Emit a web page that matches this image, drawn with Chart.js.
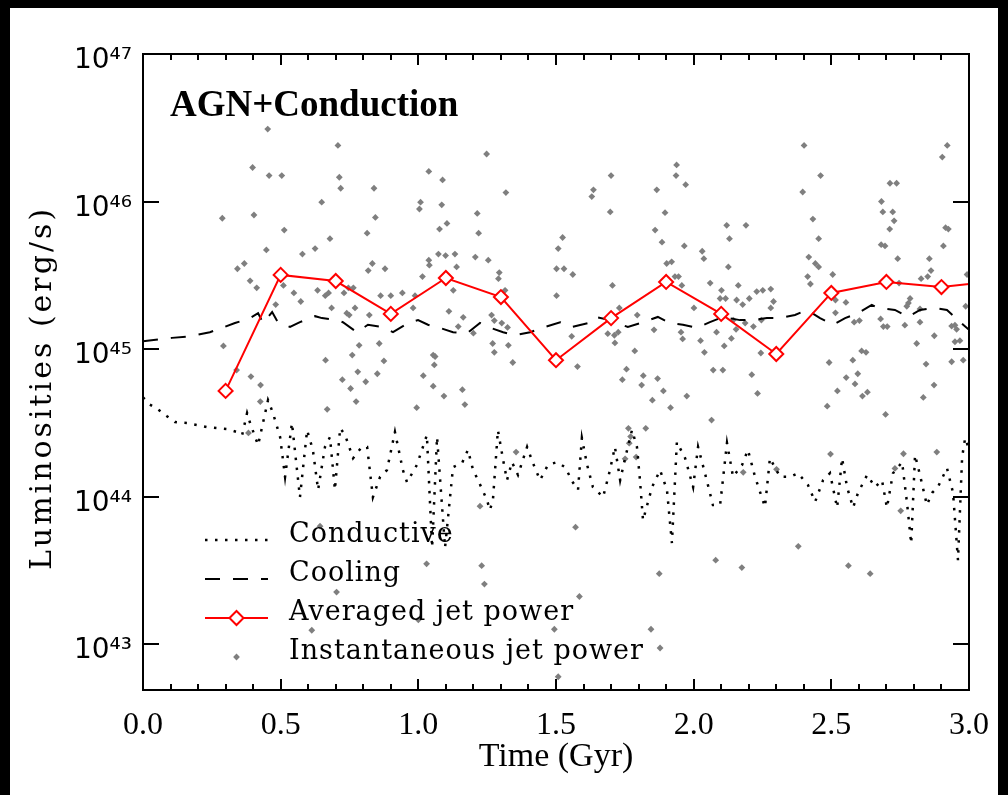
<!DOCTYPE html>
<html>
<head>
<meta charset="utf-8">
<script src="https://cdn.jsdelivr.net/npm/chart.js@4.4.1/dist/chart.umd.min.js"></script>
<style>
  html, body { margin: 0; padding: 0; background: #000; }
  #sheet { position: absolute; left: 10px; top: 8px; width: 988px; height: 787px; background: #fff; }
  #wrap { position: absolute; left: 0; top: 0; width: 1008px; height: 795px; }
</style>
</head>
<body>
<div id="sheet"></div>
<div id="wrap"><canvas id="chart" width="1008" height="795"></canvas></div>
<script>
// axis ticks
const xTicks = [0, 0.5, 1.0, 1.5, 2.0, 2.5, 3.0];
const yTicks = [1e43, 1e44, 1e45, 1e46, 1e47];
const yMin = 4.88e42;
const yMax = 1e47;

// conductive luminosity (dotted)
const condTime = [0.000,0.025,0.054,0.087,0.116,0.160,0.232,0.305,0.341,0.360,0.378,0.389,0.418,0.454,0.472,0.498,0.516,0.541,0.570,0.596,
  0.617,0.636,0.661,0.679,0.697,0.716,0.734,0.763,0.795,0.814,0.835,0.861,0.886,0.915,0.944,0.959,0.995,1.031,1.050,1.068,
  1.097,1.126,1.159,1.180,1.199,1.217,1.249,1.260,1.271,1.289,1.308,1.322,1.340,1.362,1.395,1.416,1.442,1.471,1.504,1.533,
  1.562,1.580,1.594,1.613,1.634,1.671,1.696,1.714,1.733,1.751,1.776,1.794,1.805,1.816,1.849,1.878,1.903,1.921,1.939,1.969,
  1.998,2.016,2.041,2.070,2.096,2.121,2.143,2.176,2.197,2.223,2.259,2.277,2.314,2.350,2.379,2.415,2.441,2.470,2.495,2.521,
  2.539,2.557,2.579,2.597,2.630,2.659,2.684,2.702,2.724,2.757,2.775,2.790,2.804,2.822,2.847,2.866,2.887,2.920,2.942,2.960,
  2.975,2.986,2.996];
const condLum = [4.7e44,4.2e44,3.9e44,3.5e44,3.2e44,3.15e44,2.96e44,2.87e44,2.74e44,2.61e44,3.68e44,3.15e44,2.23e44,4.5e44,3.68e44,2.53e44,1.36e44,3.15e44,9.9e43,2.82e44,
  2.07e44,1.11e44,2.17e44,2.53e44,1.11e44,2.91e44,2.61e44,1.82e44,2.17e44,2.17e44,9.9e43,1.36e44,1.51e44,2.74e44,1.51e44,1.25e44,1.64e44,2.61e44,4.5e43,2.53e44,
  4.5e43,1.58e44,1.69e44,2.07e44,1.51e44,1.29e44,9.5e43,8.1e43,9.5e43,2.82e44,1.77e44,1.29e44,1.71e44,1.40e44,2.17e44,1.69e44,1.29e44,1.64e44,1.71e44,1.58e44,
  1.24e44,1.11e44,2.49e44,1.64e44,1.16e44,9.9e43,1.51e44,2.17e44,1.29e44,1.82e44,2.82e44,2.17e44,1.29e44,6.9e43,1.16e44,1.51e44,1.11e44,4.84e43,2.34e44,1.82e44,
  1.16e44,2.17e44,1.44e44,8.75e43,8.75e43,2.31e44,1.36e44,1.64e44,2.07e44,1.36e44,8.5e43,1.82e44,1.36e44,1.36e44,1.44e44,1.2e44,9.2e43,1.29e44,1.44e44,8.4e43,
  1.82e44,1.16e44,8.4e43,1.06e44,1.4e44,1.16e44,1.29e44,8.4e43,1.44e44,1.71e44,9.0e43,4.8e43,1.91e44,1.4e44,8.75e43,1.06e44,1.16e44,1.56e44,1.06e44,3.7e43,
  1.85e44,2.49e44,2.2e44];

// cooling luminosity (dashed)
const coolTime = [0.000,0.105,0.171,0.243,0.334,0.389,0.418,0.436,0.469,0.490,0.534,0.570,0.625,0.650,0.705,0.726,0.777,0.817,0.868,0.908,
  0.963,0.999,1.035,1.079,1.126,1.177,1.224,1.253,1.308,1.351,1.406,1.460,1.515,1.558,1.616,1.642,1.696,1.722,1.761,1.816,
  1.870,1.914,1.961,2.012,2.059,2.107,2.168,2.216,2.266,2.314,2.368,2.412,2.459,2.506,2.550,2.597,2.647,2.669,2.731,2.778,
  2.822,2.869,2.920,2.960,3.000];
const coolLum = [1.13e45,1.19e45,1.22e45,1.30e45,1.50e45,1.62e45,1.75e45,1.50e45,1.78e45,1.52e45,1.41e45,1.52e45,1.67e45,1.62e45,1.57e45,1.52e45,1.30e45,1.46e45,1.41e45,1.30e45,
  1.50e45,1.57e45,1.46e45,1.39e45,1.30e45,1.28e45,1.50e45,1.41e45,1.30e45,1.24e45,1.30e45,1.41e45,1.52e45,1.41e45,1.50e45,1.65e45,1.57e45,1.50e45,1.41e45,1.52e45,
  1.65e45,1.50e45,1.46e45,1.39e45,1.52e45,1.65e45,1.57e45,1.57e45,1.62e45,1.62e45,1.70e45,1.84e45,1.62e45,1.46e45,1.62e45,1.75e45,1.99e45,1.90e45,1.84e45,1.65e45,
  1.84e45,1.90e45,1.84e45,1.57e45,1.35e45];

// averaged jet power (red diamonds)
const avgTime = [0.3,0.5,0.7,0.9,1.1,1.3,1.5,1.7,1.9,2.1,2.3,2.5,2.7,2.9,3.1];
const avgLum = [5.2e44,3.18e45,2.89e45,1.73e45,3.03e45,2.25e45,8.4e44,1.62e45,2.85e45,1.73e45,9.25e44,2.40e45,2.85e45,2.63e45,2.89e45];

// instantaneous jet power (grey dots)
const jetTime = [0.453,0.398,0.458,0.504,0.708,0.713,0.718,0.649,0.839,0.844,0.814,0.679,0.513,0.403,0.288,0.448,0.579,0.625,0.343,0.368,
  0.389,0.413,0.482,0.510,0.548,0.573,0.634,0.662,0.674,0.685,0.730,0.746,0.764,0.740,0.749,0.770,0.822,0.833,0.818,0.879,
  0.863,0.900,0.942,0.988,0.981,1.038,1.088,1.085,1.008,1.004,1.077,1.104,1.073,1.099,1.133,1.038,1.040,1.015,1.139,1.127,
  1.111,1.214,1.219,1.207,1.254,1.248,1.318,1.294,1.291,1.315,1.266,1.276,1.303,1.324,1.508,1.502,1.502,0.292,0.340,0.392,
  0.427,0.663,0.724,0.754,0.760,0.785,0.780,0.809,0.858,0.875,0.851,1.018,1.054,1.061,1.058,1.054,1.160,1.200,1.145,1.163,
  1.270,1.276,1.327,1.343,1.093,
  2.401,2.921,2.903,1.938,1.936,1.971,1.700,1.636,1.630,1.866,2.461,2.396,2.713,2.737,1.697,1.896,1.860,1.885,2.120,2.190,
  2.130,1.966,2.031,2.037,2.126,1.902,1.920,1.932,1.945,1.957,1.524,1.529,1.561,1.705,1.730,1.712,1.726,1.688,1.714,1.795,
  1.557,1.578,1.786,1.756,1.741,1.817,1.811,1.869,1.856,1.890,1.975,1.954,1.960,2.001,2.025,2.039,2.060,2.101,2.096,2.116,
  2.083,2.111,2.137,2.156,2.162,2.144,2.178,2.187,2.202,2.217,2.229,2.251,2.280,2.280,2.290,2.246,2.154,2.071,2.106,2.211,
  2.232,2.244,2.418,2.433,2.454,2.442,2.454,2.414,2.505,2.424,2.515,2.553,2.515,2.583,2.602,2.492,2.578,2.596,2.554,2.522,
  2.586,2.613,2.610,2.626,2.682,2.687,2.723,2.728,2.712,2.681,2.695,2.741,2.746,2.679,2.689,2.703,2.767,2.786,2.780,2.774,
  2.826,2.856,2.850,2.862,2.907,2.915,2.925,2.822,2.822,2.810,2.874,2.844,2.834,2.873,2.937,2.949,2.955,2.949,2.967,2.979,
  2.937,2.988,2.993,
  0.426,0.669,0.774,0.994,1.169,0.383,0.643,1.355,1.224,1.030,1.230,1.240,0.703,1.000,0.613,1.494,1.508,
  1.850,1.916,2.065,1.826,1.763,1.771,1.766,1.751,1.791,2.485,2.631,2.697,2.497,2.762,2.883,2.731,2.752,2.301,2.180,
  1.571,2.380,2.080,2.175,2.562,2.641,1.875,1.585,1.845,1.878];
const jetLum = [3.1e46,1.7e46,1.5e46,1.5e46,2.4e46,1.46e46,1.23e46,9.9e45,1.23e46,7.8e45,6.1e45,5.6e45,6.4e45,8.1e45,7.7e45,4.7e45,4.4e45,4.8e45,3.5e45,3.8e45,
  2.9e45,2.6e45,2.0e45,2.7e45,2.4e45,2.1e45,2.5e45,2.3e45,2.4e45,1.9e45,2.4e45,2.6e45,2.6e45,1.75e45,1.7e45,1.9e45,1.7e45,3.8e45,3.4e45,3.5e45,
  2.3e45,2.3e45,2.4e45,2.3e45,1.9e45,1.6e46,1.4e46,9.5e45,9.9e45,8.9e45,6.5e45,7.1e45,4.4e45,4.3e45,4.4e45,4.0e45,3.7e45,3.1e45,3.6e45,2.5e45,
  1.8e45,8.3e45,6.1e45,4.2e45,4.0e45,2.1e46,1.15e46,3.3e45,3.0e45,2.5e45,1.7e45,1.56e45,1.5e45,1.4e45,4.8e45,3.5e45,2.3e45,1.05e45,7.2e44,6.5e44,
  5.7e44,8.4e44,6.2e44,5.4e44,9.1e44,1.06e45,7.0e44,6.0e44,1.09e45,8.3e44,6.8e44,6.6e44,9.1e44,8.9e44,7.8e44,5.6e44,5.3e44,1.28e45,1.42e45,1.64e45,
  1.09e45,9.5e44,1.06e45,8.1e44,4.8e44,
  2.4e46,2.4e46,2.0e46,1.77e46,1.5e46,1.3e46,1.5e46,1.2e46,1.08e46,1.2e46,1.5e46,1.16e46,1.33e46,1.33e46,8.5e45,8.4e45,6.4e45,5.3e45,6.9e45,6.9e45,
  5.6e45,5.0e45,4.6e45,4.1e45,3.6e45,3.8e45,3.9e45,3.1e45,3.1e45,2.7e45,5.7e45,3.5e45,3.2e45,2.7e45,1.9e45,1.24e45,1.3e45,1.27e45,1.1e45,1.7e45,
  1.22e45,7.6e44,9.7e44,7.3e44,6.2e44,6.6e44,5.7e44,6.3e44,1.35e45,5.2e44,4.8e44,1.3e45,1.17e45,1.9e45,1.14e45,9.5e44,2.8e45,2.5e45,2.2e45,2.2e45,
  1.3e45,1.05e45,1.18e45,2.15e45,2.7e45,1.57e45,2.0e45,1.5e45,2.2e45,1.42e45,2.45e45,2.5e45,2.55e45,1.9e45,2.1e45,1.57e45,1.36e45,7.2e44,7.2e44,6.7e44,
  5.0e44,9.4e44,4.2e45,7.6e45,5.6e45,3.8e45,3.6e45,3.1e45,3.2e45,2.76e45,2.15e45,2.07e45,1.76e45,1.52e45,1.56e45,8.1e44,8.4e44,6.8e44,6.4e44,5.2e44,
  5.8e44,4.8e44,9.7e44,9.5e44,1.0e46,8.5e45,8.5e45,7.4e45,6.5e45,5.1e45,5.0e45,4.1e45,2.8e45,1.6e45,1.42e45,1.42e45,1.45e45,2.2e45,2.05e45,1.95e45,
  3.0e45,4.1e45,3.1e45,3.4e45,5.0e45,6.65e45,6.5e45,1.87e45,1.52e45,1.09e45,1.23e45,7.9e44,4.7e44,5.7e44,1.43e45,1.45e45,1.36e45,1.12e45,1.14e45,8.4e44,
  8.2e44,1.95e45,3.2e45,
  4.4e44,3.9e44,4.4e44,4.0e44,4.2e44,2.7e44,6.3e43,2.0e44,8.6e43,3.5e43,3.4e43,2.55e43,2.25e43,1.46e43,1.24e43,1.26e43,6.0e42,
  4.5e44,4.0e44,3.3e44,2.9e44,2.9e44,2.55e44,2.3e44,1.8e44,1.85e44,4.1e44,5.1e44,3.6e44,1.94e44,1.95e44,2.0e44,1.55e44,8.0e43,1.53e44,1.46e44,
  6.2e43,4.6e43,3.7e43,3.3e43,3.4e43,3.0e43,3.0e43,2.1e43,1.26e43,9.4e42];

const legendOrder = ['Conductive', 'Cooling', 'Averaged jet power', 'Instantaneous jet power'];

const toPoints = (xs, ys) => xs.map((x, i) => ({ x: x, y: ys[i] }));

const supDigits = '⁰¹²³⁴⁵⁶⁷⁸⁹';
function powLabel(v) {
  const e = Math.round(Math.log10(v));
  return '10' + String(e).split('').map(d => supDigits[+d]).join('');
}

// box, inward ticks, legend, labels
const framePlugin = {
  id: 'frame',
  afterDatasetsDraw(chart) {
    const { ctx, chartArea: a, scales: { x, y } } = chart;
    ctx.save();
    ctx.strokeStyle = '#000';
    ctx.lineWidth = 2;
    ctx.setLineDash([]);
    ctx.strokeRect(a.left, a.top, a.right - a.left, a.bottom - a.top);

    ctx.beginPath();
    for (let i = 0; i <= 30; i++) {
      const px = Math.round(x.getPixelForValue(i / 10));
      const len = i % 5 === 0 ? 11 : 6;
      ctx.moveTo(px, a.bottom); ctx.lineTo(px, a.bottom - len);
      ctx.moveTo(px, a.top); ctx.lineTo(px, a.top + len);
    }
    yTicks.forEach(v => {
      const py = Math.round(y.getPixelForValue(v));
      ctx.moveTo(a.left, py); ctx.lineTo(a.left + 16, py);
      ctx.moveTo(a.right, py); ctx.lineTo(a.right - 16, py);
    });
    ctx.stroke();

    // panel label
    ctx.fillStyle = '#000';
    ctx.font = 'bold 37px "Liberation Serif"';
    ctx.textAlign = 'left';
    ctx.textBaseline = 'alphabetic';
    ctx.fillText('AGN+Conduction', a.left + 27, a.top + 62);

    // legend
    const lx0 = a.left + 62, lx1 = a.left + 125, tx = a.left + 146;
    legendOrder.forEach((name, k) => {
      const ds = chart.data.datasets.find(d => d.label === name);
      const ly = a.top + 486 + k * 39;
      if (ds.showLine !== false) {
        ctx.beginPath();
        ctx.setLineDash(ds.borderDash || []);
        ctx.lineWidth = ds.borderWidth;
        ctx.strokeStyle = ds.borderColor;
        ctx.moveTo(lx0, ly); ctx.lineTo(lx1, ly);
        ctx.stroke();
        ctx.setLineDash([]);
      }
      if (ds.pointRadius > 0) {
        ctx.fillStyle = ds.pointBackgroundColor;
        ctx.strokeStyle = ds.pointBorderColor || ds.pointBackgroundColor;
        ctx.lineWidth = ds.pointBorderWidth;
        Chart.helpers.drawPoint(ctx, { pointStyle: ds.pointStyle, radius: ds.pointRadius, borderWidth: ds.pointBorderWidth, rotation: 0 }, (lx0 + lx1) / 2, ly);
      }
      ctx.fillStyle = '#000';
      ctx.font = '27px "DejaVu Serif"';
      ctx.letterSpacing = '1px';
      ctx.fillText(name, tx, ly + 2);
      ctx.letterSpacing = '0px';
    });

    // y axis title
    ctx.translate(43, 388);
    ctx.rotate(-Math.PI / 2);
    ctx.textAlign = 'center';
    ctx.textBaseline = 'middle';
    ctx.font = '30px "DejaVu Serif"';
    ctx.letterSpacing = '3px';
    ctx.fillText('Luminosities (erg/s)', 0, 0);
    ctx.restore();
  }
};

new Chart(document.getElementById('chart'), {
  type: 'line',
  data: {
    datasets: [
      {
        label: 'Averaged jet power',
        data: toPoints(avgTime, avgLum),
        borderColor: '#ff0000',
        borderWidth: 2,
        pointStyle: 'rectRot',
        pointRadius: 7,
        pointBorderWidth: 2,
        pointBorderColor: '#ff0000',
        pointBackgroundColor: '#ffffff',
        order: 0
      },
      {
        label: 'Cooling',
        data: toPoints(coolTime, coolLum),
        borderColor: '#000000',
        borderWidth: 2,
        borderDash: [15, 13],
        pointRadius: 0,
        order: 1
      },
      {
        label: 'Conductive',
        data: toPoints(condTime, condLum),
        borderColor: '#000000',
        borderWidth: 2.5,
        borderDash: [2.5, 7.5],
        pointRadius: 0,
        order: 2
      },
      {
        label: 'Instantaneous jet power',
        data: toPoints(jetTime, jetLum),
        showLine: false,
        pointStyle: 'rectRot',
        pointRadius: 3.4,
        pointBorderWidth: 0,
        pointBackgroundColor: '#7f7f7f',
        order: 3
      }
    ]
  },
  options: {
    responsive: false,
    animation: false,
    devicePixelRatio: 1,
    layout: { padding: { top: 54, right: 39, left: 0, bottom: 0 } },
    plugins: { legend: { display: false }, tooltip: { enabled: false } },
    scales: {
      x: {
        type: 'linear',
        min: 0,
        max: 3,
        grid: { display: false },
        border: { display: false },
        afterBuildTicks: s => { s.ticks = xTicks.map(v => ({ value: v })); },
        afterFit: s => { s.height = 105; },
        ticks: {
          callback: v => Number(v).toFixed(1),
          font: { family: 'Liberation Serif', size: 32 },
          color: '#000',
          padding: 8,
          maxRotation: 0,
          autoSkip: false
        },
        title: {
          display: true,
          text: 'Time (Gyr)',
          font: { family: 'Liberation Serif', size: 34 },
          color: '#000',
          padding: { top: 0, bottom: 18 }
        }
      },
      y: {
        type: 'logarithmic',
        min: yMin,
        max: yMax,
        grid: { display: false },
        border: { display: false },
        afterBuildTicks: s => { s.ticks = yTicks.map(v => ({ value: v })); },
        afterFit: s => { s.width = 143; },
        ticks: {
          callback: v => powLabel(v),
          font: { family: 'DejaVu Sans', size: 28 },
          color: '#000',
          padding: 3,
          labelOffset: 7,
          autoSkip: false
        }
      }
    }
  },
  plugins: [framePlugin]
});
</script>
</body>
</html>
